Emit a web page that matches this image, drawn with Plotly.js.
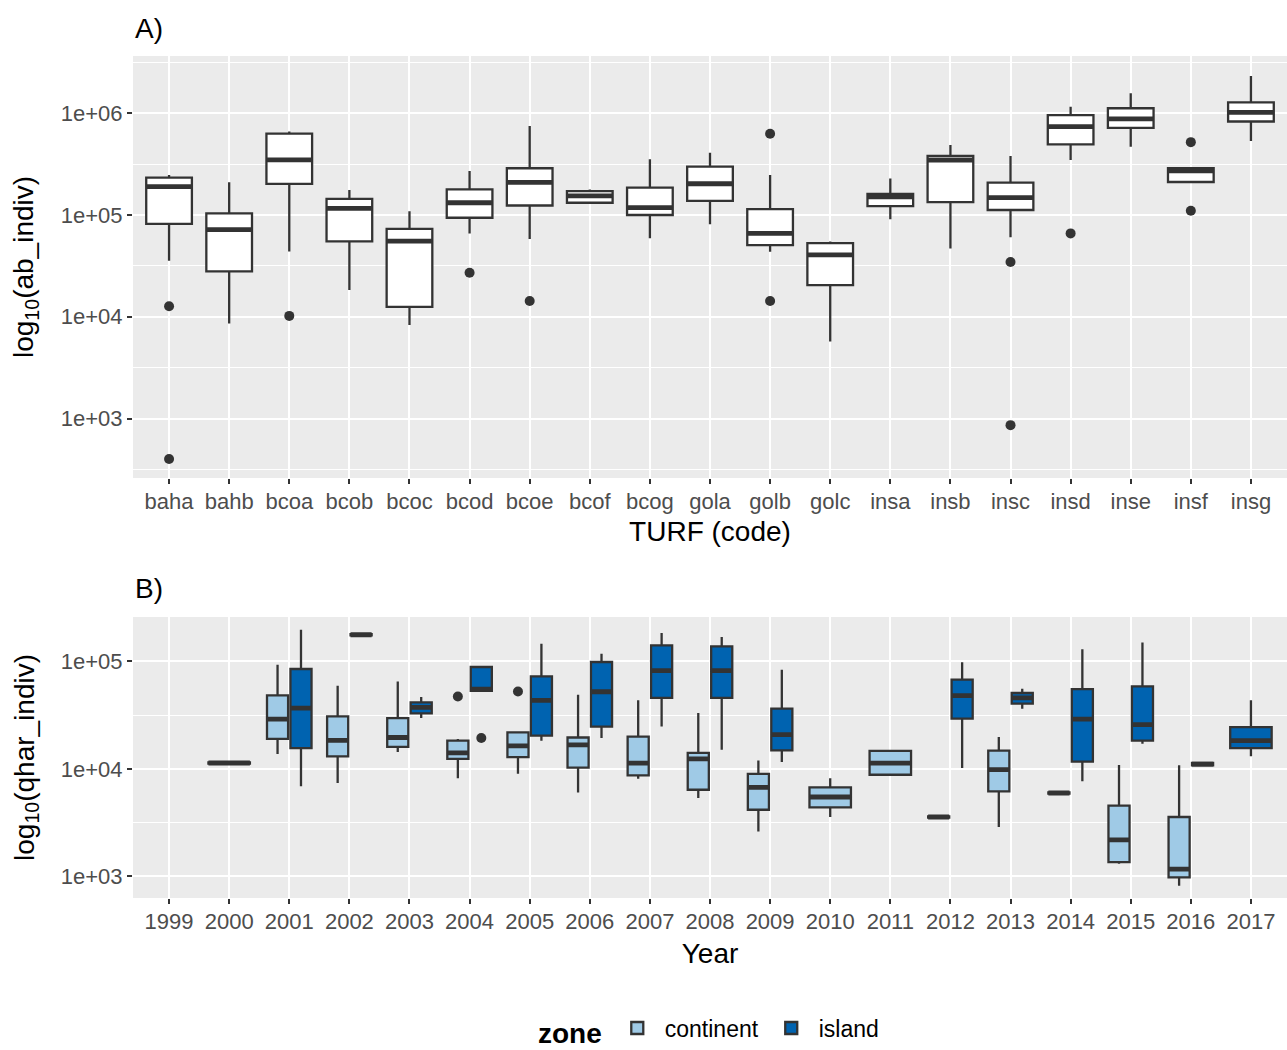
<!DOCTYPE html>
<html><head><meta charset="utf-8">
<script src="https://cdn.plot.ly/plotly-3.0.1.min.js"></script>
<style>body{margin:0;background:#fff}</style>
</head><body><div id="chart" style="width:1287px;height:1050px"></div>
<script>
// ---------- Panel A: abundance per TURF ----------
const turfCodes = ['baha','bahb','bcoa','bcob','bcoc','bcod','bcoe','bcof','bcog','gola','golb','golc','insa','insb','insc','insd','inse','insf','insg'];
const abLower  = [3.56e4, 8.6e3, 4.37e4, 1.83e4, 8.3e3, 6.6e4, 5.8e4, 1.28e5, 5.9e4, 8.1e4, 4.36e4, 5.7e3, 9.1e4, 4.7e4, 6.03e4, 3.47e5, 4.7e5, 2.11e5, 5.35e5];
const abQ1     = [8.2e4, 2.8e4, 2.02e5, 5.5e4, 1.25e4, 9.4e4, 1.24e5, 1.32e5, 1.0e5, 1.38e5, 5.07e4, 2.05e4, 1.22e5, 1.34e5, 1.12e5, 4.95e5, 7.2e5, 2.11e5, 8.3e5];
const abMedian = [1.9e5, 7.2e4, 3.48e5, 1.16e5, 5.55e4, 1.32e5, 2.09e5, 1.54e5, 1.18e5, 2.03e5, 6.6e4, 4.05e4, 1.51e5, 3.47e5, 1.48e5, 7.4e5, 8.8e5, 2.71e5, 1.02e6];
const abQ3     = [2.33e5, 1.04e5, 6.3e5, 1.44e5, 7.3e4, 1.79e5, 2.88e5, 1.72e5, 1.86e5, 2.99e5, 1.14e5, 5.3e4, 1.61e5, 3.8e5, 2.08e5, 9.6e5, 1.12e6, 2.88e5, 1.28e6];
const abUpper  = [2.47e5, 2.1e5, 6.6e5, 1.76e5, 1.09e5, 2.71e5, 7.5e5, 1.78e5, 3.53e5, 4.1e5, 2.47e5, 5.5e4, 2.29e5, 4.87e5, 3.8e5, 1.16e6, 1.57e6, 2.88e5, 2.33e6];
const abOutCode = ['baha','baha','bcoa','bcod','bcoe','golb','golb','insc','insc','insd','insf','insf'];
const abOutVal  = [1.27e4, 400, 1.02e4, 2.71e4, 1.43e4, 6.3e5, 1.43e4, 3.45e4, 861, 6.6e4, 5.2e5, 1.1e5];

// ---------- Panel B: qhar per year and zone ----------
const yearTicks = [1999,2000,2001,2002,2003,2004,2005,2006,2007,2008,2009,2010,2011,2012,2013,2014,2015,2016,2017];
const contYears  = [2000,2001,2002,2003,2004,2005,2006,2007,2008,2009,2010,2011,2012,2013,2014,2015,2016];
const contLower  = [1.12e4, 1.38e4, 7.4e3, 1.44e4, 8.2e3, 9.0e3, 6.04e3, 8.1e3, 5.36e3, 2.62e3, 3.57e3, 8.83e3, 3.52e3, 2.88e3, 5.9e3, 1.31e3, 819];
const contQ1     = [1.12e4, 1.9e4, 1.31e4, 1.6e4, 1.24e4, 1.29e4, 1.03e4, 8.7e3, 6.4e3, 4.17e3, 4.39e3, 8.83e3, 3.52e3, 6.18e3, 5.9e3, 1.36e3, 980];
const contMedian = [1.135e4, 2.91e4, 1.84e4, 1.96e4, 1.41e4, 1.64e4, 1.67e4, 1.13e4, 1.24e4, 6.73e3, 5.48e3, 1.13e4, 3.57e3, 9.85e3, 5.97e3, 2.19e3, 1.17e3];
const contQ3     = [1.15e4, 4.83e4, 3.08e4, 2.97e4, 1.83e4, 2.19e4, 1.96e4, 2.0e4, 1.41e4, 9.0e3, 6.73e3, 1.47e4, 3.62e3, 1.48e4, 6.05e3, 4.55e3, 3.57e3];
const contUpper  = [1.15e4, 9.3e4, 5.94e4, 6.5e4, 1.9e4, 2.19e4, 4.9e4, 4.34e4, 3.31e4, 1.2e4, 8.2e3, 1.47e4, 3.62e3, 1.98e4, 6.05e3, 1.09e4, 1.08e4];
const contOutYear = [2004, 2005];
const contOutVal  = [4.72e4, 5.25e4];

const islYears  = [2001,2002,2003,2004,2005,2006,2007,2008,2009,2012,2013,2014,2015,2016,2017];
const islLower  = [6.9e3, 1.75e5, 2.97e4, 5.33e4, 1.83e4, 1.94e4, 2.48e4, 1.51e4, 1.16e4, 1.02e4, 3.63e4, 7.66e3, 1.71e4, 1.08e4, 1.31e4];
const islQ1     = [1.56e4, 1.75e5, 3.28e4, 5.33e4, 2.04e4, 2.47e4, 4.57e4, 4.57e4, 1.49e4, 2.93e4, 4.05e4, 1.17e4, 1.83e4, 1.08e4, 1.56e4];
const islMedian = [3.68e4, 1.77e5, 3.73e4, 5.53e4, 4.34e4, 5.22e4, 8.2e4, 8.2e4, 2.08e4, 4.8e4, 4.57e4, 2.91e4, 2.58e4, 1.11e4, 1.83e4];
const islQ3     = [8.5e4, 1.79e5, 4.16e4, 8.87e4, 7.26e4, 9.87e4, 1.41e5, 1.38e5, 3.63e4, 6.76e4, 5.08e4, 5.53e4, 5.85e4, 1.14e4, 2.45e4];
const islUpper  = [1.97e5, 1.79e5, 4.67e4, 8.87e4, 1.46e5, 1.18e5, 1.84e5, 1.69e5, 8.37e4, 9.8e4, 5.57e4, 1.3e5, 1.5e5, 1.14e4, 4.34e4];
const islOutYear = [2004];
const islOutVal  = [1.94e4];

const contFill = '#9fcae6';
const islFill  = '#0063b0';
const dark = '#333333';
const FONT = 'Liberation Sans, Arial, sans-serif';

function sub(arr, idx) { return idx.map(i => arr[i]); }
function split(years, other) {
  const both = [], single = [];
  years.forEach((y, i) => (other.includes(y) ? both : single).push(i));
  return {both, single};
}
const cS = split(contYears, islYears);
const iS = split(islYears, contYears);

function boxTrace(o) {
  return Object.assign({
    type: 'box', orientation: 'v', whiskerwidth: 0,
    line: {color: dark, width: 2.3}, hoverinfo: 'skip'
  }, o);
}
function medTrace(o, med) {
  return boxTrace(Object.assign(o, {
    q1: med, median: med, q3: med, lowerfence: med, upperfence: med,
    fillcolor: 'rgba(0,0,0,0)', line: {color: dark, width: 4.8}, showlegend: false
  }));
}

const traces = [];
// Panel A
traces.push(boxTrace({x: turfCodes, q1: abQ1, median: abMedian, q3: abQ3, lowerfence: abLower, upperfence: abUpper,
  fillcolor: '#ffffff', width: 0.76, xaxis: 'x', yaxis: 'y', showlegend: false}));
traces.push(medTrace({x: turfCodes, width: 0.76, xaxis: 'x', yaxis: 'y'}, abMedian));
traces.push({type: 'scatter', mode: 'markers', x: abOutCode, y: abOutVal, xaxis: 'x', yaxis: 'y',
  marker: {color: dark, size: 10}, showlegend: false, hoverinfo: 'skip'});

// Panel B
function zoneTraces(years, lo, q1, md, q3, up, idx, fill, name, group, legend) {
  const xs = sub(years, idx.both), xs1 = sub(years, idx.single);
  const res = [];
  res.push(boxTrace({x: xs, q1: sub(q1, idx.both), median: sub(md, idx.both), q3: sub(q3, idx.both),
    lowerfence: sub(lo, idx.both), upperfence: sub(up, idx.both), fillcolor: fill, name: name,
    legendgroup: name, showlegend: legend, offsetgroup: group, alignmentgroup: 'g', xaxis: 'x2', yaxis: 'y2'}));
  res.push(medTrace({x: xs, offsetgroup: group, alignmentgroup: 'g', xaxis: 'x2', yaxis: 'y2', name: name, legendgroup: name}, sub(md, idx.both)));
  if (xs1.length) {
    res.push(boxTrace({x: xs1, q1: sub(q1, idx.single), median: sub(md, idx.single), q3: sub(q3, idx.single),
      lowerfence: sub(lo, idx.single), upperfence: sub(up, idx.single), fillcolor: fill, name: name,
      legendgroup: name, showlegend: false, width: 0.69, xaxis: 'x2', yaxis: 'y2'}));
    res.push(medTrace({x: xs1, width: 0.69, xaxis: 'x2', yaxis: 'y2', name: name, legendgroup: name}, sub(md, idx.single)));
  }
  return res;
}
traces.push(...zoneTraces(contYears, contLower, contQ1, contMedian, contQ3, contUpper, cS, contFill, 'continent', 'continent', true));
traces.push(...zoneTraces(islYears, islLower, islQ1, islMedian, islQ3, islUpper, iS, islFill, 'island', 'island', true));
traces.push({type: 'scatter', mode: 'markers', x: contOutYear, y: contOutVal, xaxis: 'x2', yaxis: 'y2',
  offsetgroup: 'continent', alignmentgroup: 'g', marker: {color: dark, size: 10}, showlegend: false, hoverinfo: 'skip'});
traces.push({type: 'scatter', mode: 'markers', x: islOutYear, y: islOutVal, xaxis: 'x2', yaxis: 'y2',
  offsetgroup: 'island', alignmentgroup: 'g', marker: {color: dark, size: 10}, showlegend: false, hoverinfo: 'skip'});

const tickFont = {family: FONT, size: 22, color: '#4d4d4d'};
const titleFont = {family: FONT, size: 28, color: '#000000'};
const minorVals = [316.2, 3162, 31623, 316228, 3162278];
function yax(range, domain, title) {
  return {type: 'log', range: range, domain: domain, tickvals: [1e3, 1e4, 1e5, 1e6],
    ticktext: ['1e+03', '1e+04', '1e+05', '1e+06'], ticks: 'outside', ticklen: 5, tickwidth: 2, tickcolor: dark,
    tickfont: tickFont, showgrid: true, gridcolor: '#ffffff', gridwidth: 2, zeroline: false, showline: false,
    minor: {tickmode: 'array', tickvals: minorVals, showgrid: true, gridcolor: '#ffffff', gridwidth: 1, ticks: ''},
    title: {text: title, font: titleFont, standoff: 18}, fixedrange: true};
}
function xax(extra) {
  return Object.assign({ticks: 'outside', ticklen: 5, tickwidth: 2, tickcolor: dark, ticklabelstandoff: -1,
    tickfont: tickFont, showgrid: true, gridcolor: '#ffffff', gridwidth: 2, zeroline: false, showline: false}, extra);
}
const layout = {
  width: 1287, height: 1050,
  margin: {l: 133, r: 0, t: 0, b: 0, autoexpand: false},
  paper_bgcolor: '#ffffff', plot_bgcolor: '#ebebeb',
  font: {family: FONT},
  boxmode: 'group', boxgap: 0.22, boxgroupgap: 0.1,
  scattermode: 'group', scattergap: 0.22,
  xaxis: xax({type: 'category', range: [-0.6, 18.6], anchor: 'y',
    title: {text: 'TURF (code)', font: titleFont, standoff: 8}}),
  yaxis: yax([2.416, 6.563], [0.5448, 0.9467], 'log<sub>10</sub>(ab_indiv)'),
  xaxis2: xax({type: 'linear', range: [1998.4, 2017.6], anchor: 'y2', tickvals: yearTicks,
    title: {text: 'Year', font: titleFont, standoff: 10}}),
  yaxis2: yax([2.80, 5.413], [0.1448, 0.4124], 'log<sub>10</sub>(qhar_indiv)'),
  legend: {orientation: 'h', x: 0.5, xanchor: 'center', y: 0.019, yanchor: 'middle',
    font: {family: FONT, size: 23, color: '#000000'},
    title: {text: '<b>zone</b>', font: {family: FONT, size: 28, color: '#000000'}, side: 'left'},
    itemwidth: 45, bgcolor: 'rgba(0,0,0,0)'},
  annotations: [
    {text: 'A)', xref: 'paper', yref: 'paper', x: 0, y: 0.973, xanchor: 'left', yanchor: 'middle', showarrow: false, font: titleFont},
    {text: 'B)', xref: 'paper', yref: 'paper', x: 0, y: 0.44, xanchor: 'left', yanchor: 'middle', showarrow: false, font: titleFont}
  ]
};
Plotly.newPlot('chart', traces, layout, {staticPlot: true, displayModeBar: false});
</script></body></html>
